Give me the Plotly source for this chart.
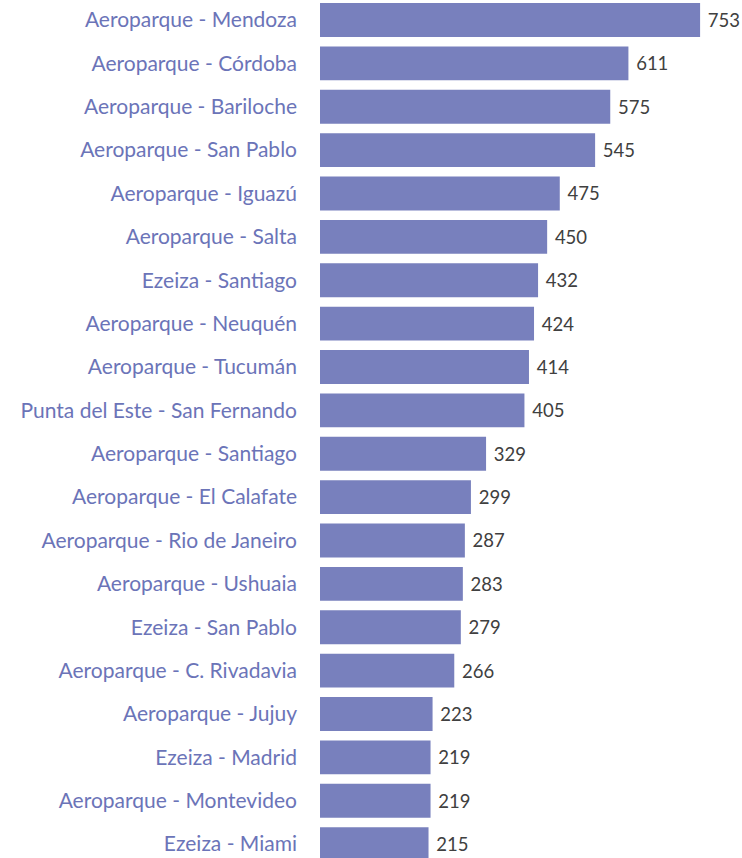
import plotly.graph_objects as go

routes = ["Aeroparque - Mendoza", "Aeroparque - Córdoba", "Aeroparque - Bariloche",
          "Aeroparque - San Pablo", "Aeroparque - Iguazú", "Aeroparque - Salta",
          "Ezeiza - Santiago", "Aeroparque - Neuquén", "Aeroparque - Tucumán",
          "Punta del Este - San Fernando", "Aeroparque - Santiago", "Aeroparque - El Calafate",
          "Aeroparque - Rio de Janeiro", "Aeroparque - Ushuaia", "Ezeiza - San Pablo",
          "Aeroparque - C. Rivadavia", "Aeroparque - Jujuy", "Ezeiza - Madrid",
          "Aeroparque - Montevideo", "Ezeiza - Miami"]
vuelos = [753, 611, 575, 545, 475, 450, 432, 424, 414, 405,
          329, 299, 287, 283, 279, 266, 223, 219, 219, 215]

fig = go.Figure(go.Bar(
    x=vuelos, y=routes, orientation="h",
    marker=dict(color="#7880BD", line=dict(width=0)),
    text=vuelos, texttemplate=" %{x}", textposition="outside",
    textfont=dict(family="Lato", size=18.5, color="#404040"),
    cliponaxis=False,
))

fig.update_layout(
    width=742, height=858,
    margin=dict(l=320, r=0, t=0, b=0, autoexpand=False),
    plot_bgcolor="white", paper_bgcolor="white",
    bargap=0.22,
    showlegend=False,
)
fig.update_xaxes(range=[0, 836], visible=False)
fig.update_yaxes(range=[19.32, -0.461], showgrid=False, showline=False, ticks="",
                 automargin=False, ticklabelstandoff=22,
                 tickfont=dict(family="Lato", size=21, color="#6B74B8"))

# drop the default 8px body margin so the figure fills the window
fig.write_html("out.html", config={"displayModeBar": False},
               post_script="document.body.style.margin='0';")
